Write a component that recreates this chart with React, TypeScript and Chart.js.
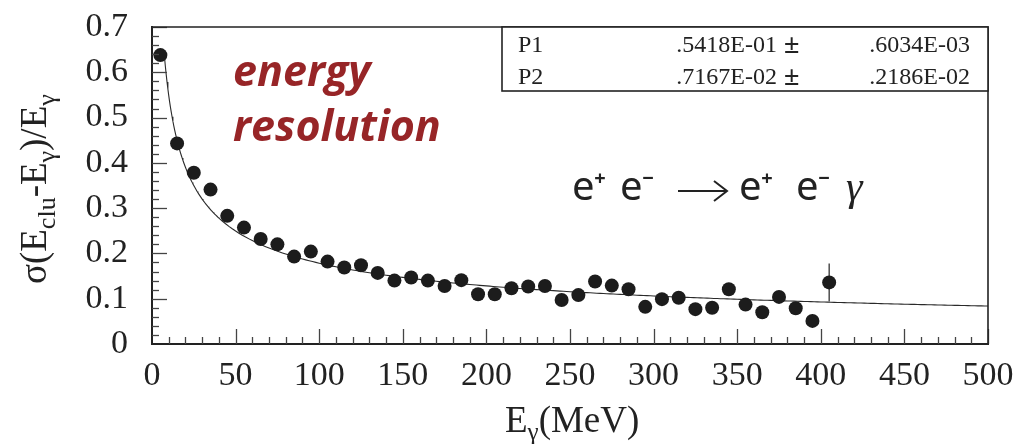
import React, { useEffect, useRef } from "react";
import { Chart, registerables } from "chart.js";

Chart.register(...registerables);

// Photon energy bin centres (MeV)
const energies = [
  5, 15, 25, 35, 45, 55, 65, 75, 85, 95, 105, 115, 125, 135, 145, 155, 165, 175, 185, 195,
  205, 215, 225, 235, 245, 255, 265, 275, 285, 295, 305, 315, 325, 335, 345, 355, 365, 375,
  385, 395, 405,
];

// Relative energy resolution sigma(E_clu - E_gamma)/E_gamma in each bin
const resolution = [
  0.638, 0.443, 0.378, 0.341, 0.283, 0.257, 0.232, 0.22, 0.193, 0.204, 0.182, 0.169, 0.174,
  0.157, 0.14, 0.147, 0.14, 0.128, 0.141, 0.11, 0.11, 0.123, 0.127, 0.128, 0.097, 0.108,
  0.138, 0.129, 0.121, 0.082, 0.099, 0.102, 0.077, 0.08, 0.121, 0.087, 0.07, 0.104, 0.079,
  0.051, 0.136,
];

// Statistical uncertainty on each bin
const resolutionErr = [
  0.012, 0.008, 0.007, 0.007, 0.006, 0.006, 0.006, 0.006, 0.006, 0.006, 0.006, 0.006, 0.006,
  0.006, 0.006, 0.006, 0.006, 0.006, 0.006, 0.006, 0.007, 0.007, 0.007, 0.007, 0.007, 0.008,
  0.008, 0.008, 0.008, 0.009, 0.009, 0.009, 0.01, 0.01, 0.01, 0.011, 0.011, 0.012, 0.013,
  0.014, 0.042,
];

// Fit parameters: sigma/E = P1 / sqrt(E[GeV]) + P2
const parNames = ["P1", "P2"];
const parValues = [".5418E-01", ".7167E-02"];
const parErrors = [".6034E-03", ".2186E-02"];

// Fit range (MeV)
const fitRange = [7.5, 500];

const xTickStep = 50;
const yTickStep = 0.1;

const P1 = parseFloat(parValues[0]);
const P2 = parseFloat(parValues[1]);

function fitCurve() {
  const pts: { x: number; y: number }[] = [];
  for (let e = fitRange[0]; e <= fitRange[1]; e += e < 40 ? 0.5 : 2) {
    pts.push({ x: e, y: P1 / Math.sqrt(e / 1000) + P2 });
  }
  return pts;
}

const SERIF = "'Liberation Serif', 'Times New Roman', serif";

const decor = {
  id: "decor",
  beforeDatasetsDraw(chart: any) {
    const { ctx } = chart;
    const x = chart.scales.x;
    const y = chart.scales.y;
    ctx.save();
    ctx.strokeStyle = "#222";
    ctx.lineWidth = 1.2;
    energies.forEach((e, i) => {
      const px = x.getPixelForValue(e);
      ctx.beginPath();
      ctx.moveTo(px, y.getPixelForValue(resolution[i] - resolutionErr[i]));
      ctx.lineTo(px, y.getPixelForValue(resolution[i] + resolutionErr[i]));
      ctx.stroke();
    });
    ctx.restore();
  },
  afterDraw(chart: any) {
    const { ctx, chartArea } = chart;
    const x = chart.scales.x;
    const y = chart.scales.y;
    const { left, right, top, bottom } = chartArea;
    ctx.save();

    // inward tick marks
    ctx.strokeStyle = "#444";
    ctx.lineWidth = 1.3;
    for (let k = 1; k <= 50; k++) {
      const v = k * 10;
      const px = Math.round(x.getPixelForValue(v)) + 0.5;
      const len = k % 5 === 0 ? 15 : 7;
      ctx.beginPath();
      ctx.moveTo(px, bottom);
      ctx.lineTo(px, bottom - len);
      ctx.stroke();
    }
    for (let k = 1; k <= 35; k++) {
      const v = k * 0.02;
      const py = Math.round(y.getPixelForValue(v)) + 0.5;
      const len = k % 5 === 0 ? 15 : 7;
      ctx.beginPath();
      ctx.moveTo(left, py);
      ctx.lineTo(left + len, py);
      ctx.stroke();
    }

    // top and right frame
    ctx.strokeStyle = "#222";
    ctx.lineWidth = 1.6;
    ctx.beginPath();
    ctx.moveTo(left, top);
    ctx.lineTo(right, top);
    ctx.lineTo(right, bottom);
    ctx.stroke();

    // fit parameter box
    const bx = 502;
    const by = top;
    ctx.fillStyle = "#fff";
    ctx.fillRect(bx, by, right - bx, 64);
    ctx.strokeRect(bx, by, right - bx, 64);
    ctx.fillStyle = "#222";
    parNames.forEach((name, i) => {
      const base = by + 25 + i * 32;
      ctx.font = `24px ${SERIF}`;
      ctx.textAlign = "left";
      ctx.fillText(name, 518, base);
      ctx.textAlign = "right";
      ctx.fillText(parValues[i], 777, base);
      ctx.fillText(parErrors[i], 970, base);
      ctx.font = `bold 28px ${SERIF}`;
      ctx.textAlign = "left";
      ctx.fillText("\u00B1", 784, base + 1);
    });

    // "energy resolution" label
    ctx.textAlign = "left";
    ctx.fillStyle = "#972527";
    ctx.font = `italic bold 43px 'Open Sans', sans-serif`;
    ctx.fillText("energy", 233, 86);
    ctx.fillText("resolution", 233, 141);

    // reaction label
    ctx.fillStyle = "#222";
    const big = `40px 'Noto Sans', sans-serif`;
    const sup = `bold 20px 'Noto Sans', sans-serif`;
    const base = 200;
    const drawE = (xe: number, sign: string) => {
      ctx.font = big;
      ctx.textAlign = "left";
      ctx.fillText("e", xe, base);
      ctx.font = sup;
      ctx.textAlign = "center";
      ctx.fillText(sign, xe + 28, base - 15);
    };
    drawE(572, "+");
    drawE(620, "\u2212");
    drawE(739, "+");
    drawE(796, "\u2212");
    ctx.font = `italic 42px ${SERIF}`;
    ctx.textAlign = "left";
    ctx.fillText("\u03B3", 846, base);
    // arrow
    ctx.strokeStyle = "#222";
    ctx.lineWidth = 2;
    ctx.beginPath();
    ctx.moveTo(678, 191);
    ctx.lineTo(726, 191);
    ctx.moveTo(714, 181);
    ctx.lineTo(727, 191);
    ctx.lineTo(714, 201);
    ctx.stroke();

    // axis titles with subscripts
    const drawSub = (
      parts: [string, boolean][],
      startX: number,
      baseY: number,
      mainSize: number,
      subSize: number,
      subDrop: number
    ) => {
      let cx = startX;
      ctx.textAlign = "left";
      for (const [t, isSub] of parts) {
        ctx.font = `${isSub ? subSize : mainSize}px ${SERIF}`;
        ctx.fillText(t, cx, isSub ? baseY + subDrop : baseY);
        cx += ctx.measureText(t).width;
      }
    };
    ctx.fillStyle = "#222";
    drawSub(
      [
        ["E", false],
        ["\u03B3", true],
        ["(MeV)", false],
      ],
      505,
      432,
      37,
      25,
      8
    );

    ctx.save();
    ctx.translate(46, 284);
    ctx.rotate(-Math.PI / 2);
    drawSub(
      [
        ["\u03C3(E", false],
        ["clu", true],
        ["-E", false],
        ["\u03B3", true],
        [")/E", false],
        ["\u03B3", true],
      ],
      0,
      0,
      37,
      26,
      9
    );
    ctx.restore();

    ctx.restore();
  },
};

export default function App() {
  const ref = useRef<HTMLCanvasElement | null>(null);

  useEffect(() => {
    if (!ref.current) return;
    const chart = new Chart(ref.current, {
      type: "scatter",
      data: {
        datasets: [
          {
            label: "data",
            data: energies.map((e, i) => ({ x: e, y: resolution[i] })),
            pointRadius: 7,
            pointHoverRadius: 7,
            pointBackgroundColor: "#1c1c1c",
            pointBorderColor: "#1c1c1c",
            pointBorderWidth: 0,
            showLine: false,
            order: 0,
          },
          {
            label: "fit",
            data: fitCurve(),
            showLine: true,
            pointRadius: 0,
            borderColor: "#2a2a2a",
            borderWidth: 1.1,
            tension: 0,
            order: 1,
          },
        ],
      },
      plugins: [decor],
      options: {
        animation: false,
        responsive: false,
        devicePixelRatio: 1,
        layout: { padding: { top: 27, right: 35, left: 0, bottom: 0 } },
        plugins: {
          legend: { display: false },
          tooltip: { enabled: false },
        },
        scales: {
          x: {
            type: "linear",
            min: 0,
            max: 500,
            grid: { display: false, drawTicks: false },
            border: { display: true, color: "#222", width: 2 },
            ticks: {
              stepSize: xTickStep,
              autoSkip: false,
              color: "#222",
              padding: 12,
              maxRotation: 0,
              font: { family: SERIF, size: 34 },
            },
            afterFit: (s: any) => {
              s.height = 100;
              s.paddingLeft = 0;
              s.paddingRight = 0;
            },
          },
          y: {
            type: "linear",
            min: 0,
            max: 0.7,
            grid: { display: false, drawTicks: false },
            border: { display: true, color: "#222", width: 2 },
            ticks: {
              stepSize: yTickStep,
              autoSkip: false,
              color: "#222",
              padding: 24,
              font: { family: SERIF, size: 34 },
              callback: (v: any) => String(Number(Number(v).toFixed(1))),
            },
            afterFit: (s: any) => {
              s.width = 152;
              s.paddingTop = 0;
              s.paddingBottom = 0;
            },
          },
        },
      },
    } as any);
    return () => chart.destroy();
  }, []);

  return (
    <div style={{ position: "absolute", left: 0, top: 0, width: 1023, height: 444, background: "#fff" }}>
      <canvas ref={ref} width={1023} height={444} />
    </div>
  );
}
